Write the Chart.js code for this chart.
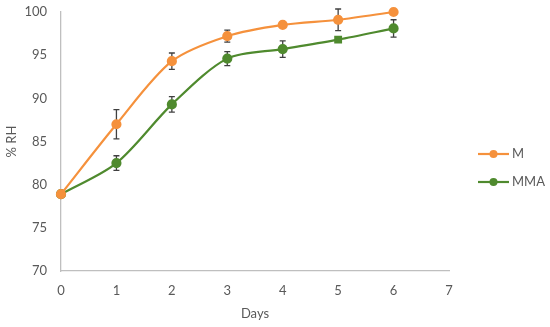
<!DOCTYPE html>
<html>
<head>
<meta charset="utf-8">
<script src="https://cdn.jsdelivr.net/npm/chart.js@4"></script>
<style>
html,body{margin:0;padding:0;background:#fff;}
#wrap{width:550px;height:327px;position:relative;}
</style>
</head>
<body>
<div id="wrap"><canvas id="c" width="550" height="327"></canvas></div>
<script>
const days = [0, 1, 2, 3, 4, 5, 6];
const seriesNames = ['M', 'MMA'];
const mValues = [78.9, 87.0, 94.3, 97.2, 98.5, 99.1, 100.0];
const mErrors = [0, 1.7, 0.95, 0.7, 0, 1.25, 0];
const mmaValues = [78.9, 82.5, 89.3, 94.6, 95.7, 96.8, 98.1];
const mmaErrors = [0, 0.85, 0.9, 0.8, 0.95, 0, 1.0];
const mmaStyles = ['circle', 'circle', 'circle', 'circle', 'circle', 'rect', 'circle'];
const yTicks = [70, 75, 80, 85, 90, 95, 100];
const xTicks = [0, 1, 2, 3, 4, 5, 6, 7];

const orange = '#F5913C';
const green = '#4F8A2E';
const textColor = '#595959';
const axisColor = '#BFBFBF';

function toPts(vals) { return vals.map((v, i) => ({x: days[i], y: v})); }

const errorBars = {
  id: 'errorBars',
  beforeDatasetsDraw(chart) {
    const ctx = chart.ctx;
    const xs = chart.scales.x, ys = chart.scales.y;
    ctx.save();
    ctx.strokeStyle = '#404040';
    ctx.lineWidth = 1.3;
    chart.data.datasets.forEach(ds => {
      (ds.errors || []).forEach((e, i) => {
        if (!e) return;
        const px = xs.getPixelForValue(ds.data[i].x);
        const t = ys.getPixelForValue(ds.data[i].y + e);
        const b = ys.getPixelForValue(ds.data[i].y - e);
        ctx.beginPath();
        ctx.moveTo(px, t); ctx.lineTo(px, b);
        ctx.moveTo(px - 3, t); ctx.lineTo(px + 3, t);
        ctx.moveTo(px - 3, b); ctx.lineTo(px + 3, b);
        ctx.stroke();
      });
    });
    ctx.restore();
  }
};

const sideLegend = {
  id: 'sideLegend',
  afterDraw(chart) {
    const ctx = chart.ctx;
    const rows = [154, 182];
    ctx.save();
    chart.data.datasets.forEach((ds, i) => {
      const y = rows[i];
      ctx.strokeStyle = ds.borderColor;
      ctx.lineWidth = 2.2;
      ctx.beginPath();
      ctx.moveTo(478, y); ctx.lineTo(509, y);
      ctx.stroke();
      ctx.fillStyle = ds.borderColor;
      ctx.beginPath();
      ctx.arc(493.5, y, 4, 0, Math.PI * 2);
      ctx.fill();
      ctx.fillStyle = textColor;
      ctx.font = '13px Lato';
      ctx.textBaseline = 'middle';
      ctx.textAlign = 'left';
      ctx.fillText(ds.label, 512, y);
    });
    ctx.restore();
  }
};

new Chart(document.getElementById('c'), {
  type: 'line',
  data: {
    datasets: [
      {label: seriesNames[0], data: toPts(mValues), errors: mErrors, clip: false,
       borderColor: orange, backgroundColor: orange, pointBackgroundColor: orange,
       pointBorderColor: orange, borderWidth: 2.2, pointRadius: 4, tension: 0.3, fill: false},
      {label: seriesNames[1], data: toPts(mmaValues), errors: mmaErrors, pointStyle: mmaStyles, clip: false,
       borderColor: green, backgroundColor: green, pointBackgroundColor: green,
       pointBorderColor: green, borderWidth: 2.2, pointRadius: 4, tension: 0.3, fill: false}
    ]
  },
  options: {
    responsive: false,
    animation: false,
    layout: {padding: {left: 0, right: 101, top: 12, bottom: 0}},
    plugins: {legend: {display: false}, tooltip: {enabled: false}},
    scales: {
      x: {
        type: 'linear', min: 0, max: 7,
        afterBuildTicks: s => { s.ticks = xTicks.map(v => ({value: v})); },
        afterFit: s => { s.height = 56; s.paddingLeft = 0; s.paddingRight = 0; },
        grid: {display: false, drawTicks: false},
        border: {color: axisColor, width: 1.3},
        ticks: {color: textColor, font: {family: 'Lato', size: 13}, padding: 12},
        title: {display: true, text: 'Days', color: textColor, font: {family: 'Lato', size: 13}, padding: {top: 2, bottom: 5}}
      },
      y: {
        type: 'linear', min: 70, max: 100,
        afterBuildTicks: s => { s.ticks = yTicks.map(v => ({value: v})); },
        afterFit: s => { s.width = 61; s.paddingTop = 0; s.paddingBottom = 0; },
        grid: {display: false, drawTicks: false},
        border: {color: axisColor, width: 1.3},
        ticks: {color: textColor, font: {family: 'Lato', size: 13}, padding: 14},
        title: {display: true, text: '% RH', color: textColor, font: {family: 'Lato', size: 13}, padding: {top: 4, bottom: 0}}
      }
    }
  },
  plugins: [errorBars, sideLegend]
});
</script>
</body>
</html>
